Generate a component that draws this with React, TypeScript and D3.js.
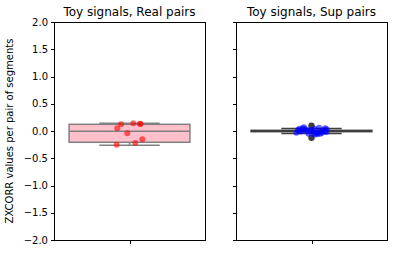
import React from "react";
import * as d3 from "d3";

// ---- data ----
const panelTitles = ["Toy signals, Real pairs", "Toy signals, Sup pairs"];
const yTicks = [-2.0, -1.5, -1.0, -0.5, 0.0, 0.5, 1.0, 1.5, 2.0];
const yLabel = "ZXCORR values per pair of segments";

// box stats: [whisker low, q1, median, q3, whisker high]
const realBox = [-0.262, -0.207, -0.004, 0.123, 0.141];
const supBox = [-0.045, -0.012, 0.0, 0.012, 0.045];
const realFliers: number[] = [];
const supFliers = [0.095, -0.125];

const realValues = [0.123, 0.05, 0.141, 0.128, 0.132, -0.042, -0.152, -0.22, -0.251];
const realJitter = [-0.056, -0.081, 0.025, 0.072, 0.07, -0.015, 0.085, 0.038, -0.085];

const supValues = [
  0.02, -0.03, 0.05, -0.01, 0.0, 0.03, -0.05, 0.01, -0.02, 0.04, -0.04, 0.06, 0.0, -0.06,
  0.02, -0.01, 0.03, -0.03, 0.05, -0.05, 0.01, 0.0, -0.02, 0.04, 0.07, -0.07, 0.02, -0.04,
];
const supJitter = [
  -0.09, -0.1, -0.06, -0.07, -0.03, -0.04, -0.02, 0.0, 0.01, 0.02, 0.03, 0.05, 0.06, 0.04,
  0.08, 0.09, 0.1, 0.07, 0.09, 0.06, -0.05, -0.08, 0.1, -0.08, -0.05, 0.02, -0.01, 0.04,
];

const W = 394;
const H = 253;

export default function App() {
  const y = d3.scaleLinear().domain([-2, 2]).range([240, 22]);
  const panels = [
    {
      x0: 54, x1: 205, title: panelTitles[0], box: realBox, fliers: realFliers,
      values: realValues, jitter: realJitter, fill: "#ffc0cb", edge: "#808080",
      dot: "rgba(255,0,0,0.6)", showLabels: true,
    },
    {
      x0: 236, x1: 387, title: panelTitles[1], box: supBox, fliers: supFliers,
      values: supValues, jitter: supJitter, fill: "#0000ff", edge: "#3f3f3f",
      dot: "rgba(0,0,255,0.6)", showLabels: false,
    },
  ];
  const font = "DejaVu Sans, sans-serif";

  return (
    <svg width={W} height={H} style={{ position: "absolute", left: 0, top: 0, background: "#fff" }}>
      <text
        transform={`translate(13,${y(0)}) rotate(-90)`}
        textAnchor="middle"
        fontFamily={font}
        fontSize={10}
        fill="#000"
      >
        {yLabel}
      </text>
      {panels.map((p, i) => {
        const x = d3.scaleBand<string>().domain(["a"]).range([p.x0, p.x1]).padding(0);
        const bw = x.bandwidth();
        const cx = (x("a") as number) + bw / 2;
        const boxW = bw * 0.8;
        const capW = boxW * 0.5;
        const [wlo, q1, med, q3, whi] = p.box;
        const top = Math.round(y(2)) + 0.5;
        const bot = Math.round(y(-2)) + 0.5;
        const left = Math.round(p.x0) + 0.5;
        const right = Math.round(p.x1) + 0.5;
        return (
          <g key={i}>
            {/* box */}
            <g stroke={p.edge} strokeWidth={1.5}>
              <line x1={cx} x2={cx} y1={y(q3)} y2={y(whi)} />
              <line x1={cx} x2={cx} y1={y(q1)} y2={y(wlo)} />
              <line x1={cx - capW / 2} x2={cx + capW / 2} y1={y(whi)} y2={y(whi)} />
              <line x1={cx - capW / 2} x2={cx + capW / 2} y1={y(wlo)} y2={y(wlo)} />
              <rect
                x={cx - boxW / 2}
                width={boxW}
                y={y(q3)}
                height={Math.max(0.1, y(q1) - y(q3))}
                fill={p.fill}
              />
              <line x1={cx - boxW / 2} x2={cx + boxW / 2} y1={y(med)} y2={y(med)} />
            </g>
            {p.fliers.map((f, j) => (
              <circle key={"f" + j} cx={cx} cy={y(f)} r={3.2} fill={p.edge} />
            ))}
            {p.values.map((v, j) => (
              <circle key={"p" + j} cx={cx + p.jitter[j] * bw} cy={y(v)} r={3} fill={p.dot} />
            ))}
            {/* spines */}
            <rect x={left} y={top} width={right - left} height={bot - top} fill="none" stroke="#000" strokeWidth={1} />
            {/* y ticks */}
            {yTicks.map((t) => (
              <g key={t}>
                <line x1={left - 3.5} x2={left} y1={Math.round(y(t)) + 0.5} y2={Math.round(y(t)) + 0.5} stroke="#000" strokeWidth={1} />
                {p.showLabels && (
                  <text
                    x={left - 6.5}
                    y={y(t)}
                    dy="0.35em"
                    textAnchor="end"
                    fontFamily={font}
                    fontSize={10}
                    fill="#000"
                  >
                    {d3.format(".1f")(t).replace("-", "\u2212")}
                  </text>
                )}
              </g>
            ))}
            {/* x tick */}
            <line x1={Math.round(cx) + 0.5} x2={Math.round(cx) + 0.5} y1={bot} y2={bot + 3.5} stroke="#000" strokeWidth={1} />
            <text x={cx} y={16} textAnchor="middle" fontFamily={font} fontSize={12} fill="#000">
              {p.title}
            </text>
          </g>
        );
      })}
    </svg>
  );
}
